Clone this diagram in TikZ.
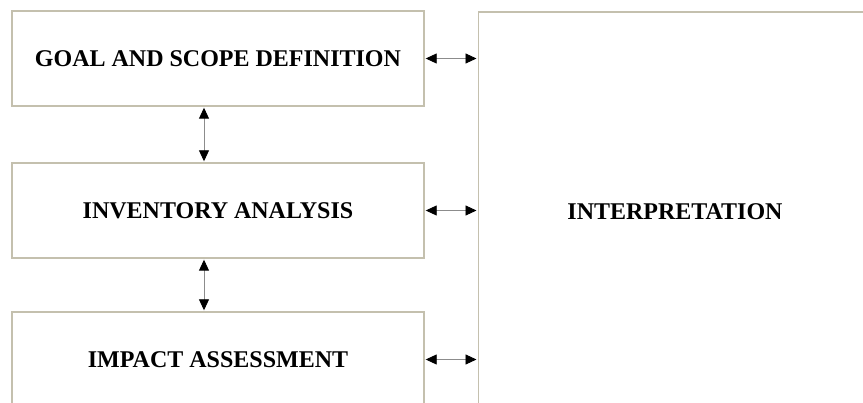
\documentclass[tikz,border=0pt]{standalone}
\usepackage{fontspec}
\setmainfont{Liberation Serif}
\usetikzlibrary{arrows.meta}
\definecolor{boxline}{HTML}{C4C0AE}
\tikzset{
  stage/.style={draw=boxline, line width=1.4pt, fill=white, minimum width=412pt,
    minimum height=95pt, inner sep=0pt, font=\bfseries\fontsize{24}{28}\selectfont},
  label/.style={inner sep=0pt, font=\bfseries\fontsize{24}{28}\selectfont},
  link/.style={draw=black!45, line width=0.9pt,
    {Triangle[length=11pt,width=10pt,color=black]}-{Triangle[length=11pt,width=10pt,color=black]},
    shorten <=1pt, shorten >=1pt}
}
\begin{document}
\begin{tikzpicture}[x=1pt, y=-1pt]
  \useasboundingbox (0,0) rectangle (863,403);
  \clip (0,0) rectangle (863,403);
  % the four phases
  \node[stage] (goal) at (218,58.5) {GOAL AND SCOPE DEFINITION};
  \node[stage] (inv)  at (218,210.5) {INVENTORY ANALYSIS};
  \node[stage] (imp)  at (218,359.5) {IMPACT ASSESSMENT};
  \node[draw=boxline, line width=1.6pt, minimum width=420pt, minimum height=396pt,
        inner sep=0pt, anchor=north west] (interp) at (477.5,11.5) {};
  \node[label] (interptext) at (675,212) {INTERPRETATION};
  % links between the phases
  \draw[link] (goal.south -| 204,0) -- (inv.north -| 204,0);
  \draw[link] (inv.south -| 204,0) -- (imp.north -| 204,0);
  \draw[link] (goal.east) -- (goal.east -| interp.west);
  \draw[link] (inv.east) -- (inv.east -| interp.west);
  \draw[link] (imp.east) -- (imp.east -| interp.west);
\end{tikzpicture}
\end{document}
